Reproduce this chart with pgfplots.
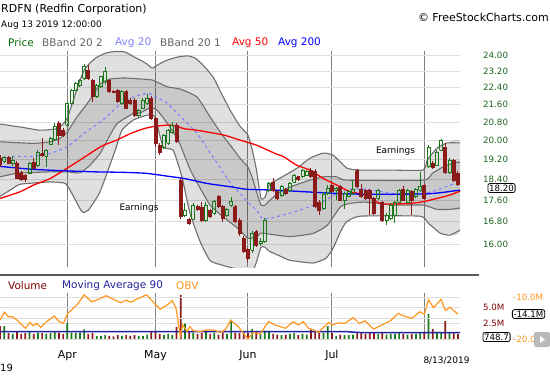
\documentclass[border=0pt]{standalone}
\usepackage{pgfplots}
\pgfplotsset{compat=1.18}
\usepackage{pgfplotstable}
\usepackage{fontspec}
\setmainfont{DejaVu Sans}
\definecolor{cred}{RGB}{139,26,26}
\definecolor{cgreen}{RGB}{25,120,25}
\definecolor{bandline}{RGB}{110,110,110}
\definecolor{avgtw}{RGB}{128,128,255}
\definecolor{mavol}{RGB}{35,35,160}
\definecolor{obv}{RGB}{255,150,30}
\definecolor{ticklbl}{RGB}{30,100,30}
\definecolor{vgrid}{RGB}{128,128,128}
\definecolor{hgrid}{RGB}{222,222,222}
\definecolor{legdark}{RGB}{0,100,0}
\definecolor{leggray}{RGB}{100,100,100}
\definecolor{volred}{RGB}{128,0,0}
\definecolor{sepline}{RGB}{90,90,90}
\definecolor{btngray}{RGB}{185,185,185}

\pgfplotstableread{
i o h l c v
0 19.25 19.40 18.90 19.00 2.0
1 19.14 19.35 19.05 19.28 2.0
2 19.27 19.35 19.00 19.06 0.9
3 19.05 19.35 18.93 19.18 0.8
4 19.05 19.12 18.40 18.45 1.1
5 18.66 18.72 18.33 18.40 0.8
6 18.57 18.62 18.30 18.40 0.9
7 18.65 19.10 18.60 19.05 1.2
8 19.10 19.25 18.80 18.85 0.8
9 18.97 19.60 18.90 19.52 1.0
10 19.45 20.10 19.30 19.38 0.9
11 19.34 19.65 18.90 19.59 0.8
12 19.85 20.15 19.80 20.08 0.9
13 20.05 20.75 20.00 20.63 1.2
14 20.75 20.85 19.80 20.24 1.0
15 20.45 20.55 20.15 20.24 0.8
16 20.68 21.75 20.60 21.66 2.5
17 21.68 22.35 21.60 22.29 1.0
18 22.29 22.70 22.25 22.60 0.9
19 22.53 22.85 22.45 22.78 1.0
20 22.88 23.60 22.80 23.45 1.5
21 23.27 23.52 22.80 22.88 0.8
22 22.78 22.85 21.75 21.98 0.9
23 21.98 22.60 21.90 22.53 0.5
24 22.48 23.00 22.40 22.95 0.5
25 22.70 23.45 22.60 23.18 0.6
26 22.78 22.85 22.15 22.22 0.5
27 22.24 22.30 22.15 22.20 0.4
28 22.29 22.35 21.70 21.75 0.6
29 21.68 22.30 21.60 22.22 0.5
30 22.22 22.30 21.40 21.45 0.6
31 21.82 21.90 21.60 21.68 0.5
32 21.82 21.90 21.05 21.12 0.6
33 21.12 21.40 21.05 21.35 0.5
34 21.45 21.90 21.40 21.82 0.5
35 21.68 22.12 21.60 21.90 0.7
36 21.90 22.00 20.90 20.97 1.2
37 20.97 21.05 19.72 19.89 1.1
38 19.80 19.88 19.40 19.52 0.8
39 19.72 20.30 19.65 20.24 0.6
40 19.89 20.52 19.80 20.45 0.8
41 20.34 20.80 20.28 20.68 0.6
42 20.68 20.75 19.90 19.96 1.9
43 18.37 18.45 16.90 16.98 6.9
44 17.04 17.48 16.98 17.20 2.4
45 16.89 16.95 16.68 16.73 1.2
46 16.89 17.50 16.85 17.41 1.0
47 17.35 17.40 17.18 17.24 0.8
48 17.32 17.52 16.80 16.85 0.9
49 16.85 17.52 16.80 17.41 1.1
50 17.22 17.28 16.92 16.98 0.8
51 17.10 17.62 17.05 17.55 0.9
52 17.72 17.78 17.30 17.35 0.7
53 17.35 17.40 16.80 16.92 1.0
54 17.04 17.30 16.98 17.25 0.8
55 17.40 17.72 17.35 17.55 2.9
56 17.35 17.42 16.75 16.80 1.0
57 16.85 16.92 16.30 16.38 0.9
58 16.20 16.28 15.70 15.75 1.1
59 15.83 15.88 15.42 15.53 1.0
60 15.80 16.45 15.72 16.39 1.6
61 16.44 16.50 15.90 15.97 1.2
62 16.05 16.22 15.95 16.10 0.8
63 16.10 16.92 16.05 16.85 1.3
64 17.98 18.30 17.90 18.24 1.2
65 18.30 18.45 17.92 17.98 0.8
66 17.93 17.98 17.62 17.67 0.7
67 17.79 18.17 17.72 18.11 0.6
68 18.01 18.06 17.80 17.86 0.7
69 17.98 18.30 17.92 18.24 0.8
70 18.30 18.62 18.25 18.57 0.9
71 18.50 18.55 18.35 18.40 0.6
72 18.50 18.80 18.45 18.75 0.8
73 18.57 18.78 18.52 18.70 0.7
74 18.77 18.84 18.45 18.50 1.5
75 18.73 18.80 17.30 17.37 1.2
76 17.52 17.60 17.04 17.22 1.0
77 17.28 17.90 17.22 17.83 1.0
78 17.86 18.17 17.80 18.05 2.0
79 18.17 18.22 17.88 17.93 0.9
80 17.98 18.10 17.60 18.04 0.5
81 18.11 18.17 17.55 17.60 0.7
82 17.60 17.92 17.28 17.86 0.6
83 17.75 17.98 17.70 17.93 0.6
84 17.86 18.37 17.80 18.01 0.7
85 18.75 18.82 18.05 18.11 1.0
86 18.01 18.20 17.68 17.73 0.9
87 17.98 18.04 17.62 17.67 0.8
88 17.98 18.04 17.04 17.67 0.9
89 17.67 17.72 17.04 17.10 0.9
90 17.67 18.04 17.60 17.98 0.8
91 17.52 17.58 16.80 16.85 0.9
92 16.85 17.10 16.67 17.04 0.7
93 16.90 17.48 16.85 17.41 0.8
94 17.04 17.58 16.74 17.52 0.8
95 17.52 18.04 17.48 17.98 0.9
96 18.01 18.13 17.55 17.60 0.8
97 17.52 18.04 17.48 17.98 0.7
98 17.93 17.98 17.04 17.60 0.8
99 17.73 18.07 17.68 18.01 0.8
100 17.98 18.68 17.92 18.11 0.9
101 18.17 18.22 17.62 17.67 1.1
102 18.90 19.80 18.85 19.70 3.9
103 19.06 19.12 18.80 18.86 1.6
104 18.97 19.58 18.92 19.52 1.1
105 19.59 20.08 19.55 20.02 1.0
106 19.72 19.89 18.62 18.68 2.8
107 18.68 19.25 18.62 19.18 0.9
108 19.18 19.24 18.30 18.37 0.9
109 18.65 18.72 18.12 18.20 0.75
}\candles

\begin{document}
\begin{tikzpicture}[x=1bp,y=1bp]

% ---------------- price panel (logarithmic price scale through a coordinate transformation) ----------------
\begin{axis}[
  at={(0bp,108bp)}, anchor=south west,
  width=460bp, height=216bp, scale only axis,
  y coord trafo/.code={\pgfmathparse{ln(#1)}},
  y coord inv trafo/.code={\pgfmathparse{exp(#1)}},
  xmin=-0.024, xmax=109.5,
  ymin=15.24, ymax=24.245,
  axis line style={draw=none},
  major tick length=0pt,
  xtick={16,37,59,79,101}, xticklabels={},
  xmajorgrids, x grid style={vgrid, line width=1bp},
  ytick={16,16.8,17.6,18.4,19.2,20,20.8,21.6,22.4,23.2,24},
  yticklabels={16.00,16.80,17.60,18.40,19.20,20.00,20.80,21.60,22.40,23.20,24.00},
  ymajorgrids, y grid style={hgrid, line width=1bp},
  yticklabel pos=right,
  yticklabel style={anchor=west, inner sep=0pt, xshift=23bp, font=\fontsize{8.7}{10}\selectfont, text=ticklbl},
]
% outer band area (BBand 20 2): upper curve, then lower curve reversed
\addplot[fill=black, fill opacity=0.12, draw=none, smooth, tension=0.3] coordinates {
(0,20.72)(4.8,20.59)(9.5,20.45)(13.1,20.50)(14.8,20.68)(16.0,21.00)(17.1,21.60)(18.6,22.53)(20.0,23.27)(21.4,23.63)(23.1,23.93)(25.2,24.14)(27.4,24.22)(29.8,24.19)(31.7,23.96)(33.8,23.73)(35.0,23.57)(36.2,23.37)(37.4,23.52)(39.3,23.73)(41.0,23.86)(42.9,23.96)(44.8,23.99)(46.4,23.88)(48.1,23.57)(50.7,22.93)(52.9,22.05)(55.0,21.27)(57.1,20.63)(59.0,20.24)(60.0,19.63)(61.0,18.81)(62.1,17.67)(63.1,17.71)(64.0,18.17)(65.0,18.29)(67.9,18.57)(70.7,18.85)(73.8,19.26)(76.9,19.47)(79.3,19.38)(82.6,18.85)(85.7,18.77)(92.9,18.77)(100.7,18.77)(101.7,19.18)(104.0,19.68)(106.4,19.90)(109.5,19.90)
(109.5,16.50)(107.1,16.32)(104.8,16.39)(101.9,16.75)(100.0,17.00)(85.7,17.00)(82.4,16.78)(81.0,16.43)(79.3,15.87)(77.6,15.53)(74.5,15.37)(69.0,15.46)(66.7,15.60)(64.0,15.77)(63.1,15.90)(62.1,15.90)(61.0,15.39)(60.0,15.04)(59.0,15.00)(57.1,15.14)(55.0,15.22)(52.9,15.30)(50.0,15.45)(47.6,16.10)(45.2,17.11)(43.3,18.49)(41.2,19.59)(38.8,19.73)(36.9,21.03)(35.0,21.12)(31.7,20.90)(29.0,20.45)(27.4,19.59)(23.8,17.92)(21.0,17.22)(19.5,17.16)(17.1,17.85)(15.5,18.24)(11.9,18.30)(4.8,18.21)(3.1,18.05)(0,17.74)};
% inner band area (BBand 20 1)
\addplot[fill=black, fill opacity=0.10, draw=none, smooth, tension=0.3] coordinates {
(0,19.95)(7.9,19.88)(11.9,19.95)(14.3,20.10)(16.0,20.38)(18.3,21.04)(20.7,21.64)(22.6,22.20)(23.8,22.58)(26.2,22.83)(29.8,22.88)(33.3,22.83)(36.2,22.78)(39.8,22.45)(42.9,22.34)(46.9,21.96)(50.0,21.04)(52.9,20.24)(55.0,19.76)(57.1,19.26)(59.0,18.89)(60.0,18.49)(61.0,17.94)(62.1,17.41)(63.1,17.41)(64.0,17.56)(66.2,17.86)(69.0,18.10)(73.8,18.37)(76.9,18.50)(80.2,18.50)(82.6,18.37)(100.7,18.37)(102.9,18.64)(105.5,18.90)(107.6,19.04)(109.5,19.10)
(109.5,17.30)(107.1,17.25)(104.0,17.25)(100.7,17.41)(93.6,17.41)(86.9,17.52)(83.3,17.47)(81.0,17.34)(77.9,16.67)(74.5,16.38)(69.0,16.27)(64.0,16.36)(62.1,16.39)(61.0,16.25)(59.0,16.21)(57.1,16.50)(55.0,16.75)(52.9,17.00)(50.0,17.41)(47.6,18.06)(45.2,18.81)(42.4,20.02)(39.8,20.75)(37.4,21.35)(35.7,21.45)(33.3,21.22)(31.7,21.20)(27.9,20.75)(26.2,20.24)(23.8,19.45)(21.4,18.97)(19.0,18.66)(16.0,18.70)(11.9,18.70)(4.0,18.64)(0,18.50)};
% band lines
\addplot[bandline, line width=1.1bp, smooth, tension=0.3] coordinates {
(0,20.72)(4.8,20.59)(9.5,20.45)(13.1,20.50)(14.8,20.68)(16.0,21.00)(17.1,21.60)(18.6,22.53)(20.0,23.27)(21.4,23.63)(23.1,23.93)(25.2,24.14)(27.4,24.22)(29.8,24.19)(31.7,23.96)(33.8,23.73)(35.0,23.57)(36.2,23.37)(37.4,23.52)(39.3,23.73)(41.0,23.86)(42.9,23.96)(44.8,23.99)(46.4,23.88)(48.1,23.57)(50.7,22.93)(52.9,22.05)(55.0,21.27)(57.1,20.63)(59.0,20.24)(60.0,19.63)(61.0,18.81)(62.1,17.67)(63.1,17.71)(64.0,18.17)(65.0,18.29)(67.9,18.57)(70.7,18.85)(73.8,19.26)(76.9,19.47)(79.3,19.38)(82.6,18.85)(85.7,18.77)(92.9,18.77)(100.7,18.77)(101.7,19.18)(104.0,19.68)(106.4,19.90)(109.5,19.90)};
\addplot[bandline, line width=1.1bp, smooth, tension=0.3] coordinates {
(0,17.74)(3.1,18.05)(4.8,18.21)(11.9,18.30)(15.5,18.24)(17.1,17.85)(19.5,17.16)(21.0,17.22)(23.8,17.92)(27.4,19.59)(29.0,20.45)(31.7,20.90)(35.0,21.12)(36.9,21.03)(38.8,19.73)(41.2,19.59)(43.3,18.49)(45.2,17.11)(47.6,16.10)(50.0,15.45)(52.9,15.30)(55.0,15.22)(57.1,15.14)(59.0,15.00)(60.0,15.04)(61.0,15.39)(62.1,15.90)(63.1,15.90)(64.0,15.77)(66.7,15.60)(69.0,15.46)(74.5,15.37)(77.6,15.53)(79.3,15.87)(81.0,16.43)(82.4,16.78)(85.7,17.00)(100.0,17.00)(101.9,16.75)(104.8,16.39)(107.1,16.32)(109.5,16.50)};
\addplot[bandline, line width=1.1bp, smooth, tension=0.3] coordinates {
(0,19.95)(7.9,19.88)(11.9,19.95)(14.3,20.10)(16.0,20.38)(18.3,21.04)(20.7,21.64)(22.6,22.20)(23.8,22.58)(26.2,22.83)(29.8,22.88)(33.3,22.83)(36.2,22.78)(39.8,22.45)(42.9,22.34)(46.9,21.96)(50.0,21.04)(52.9,20.24)(55.0,19.76)(57.1,19.26)(59.0,18.89)(60.0,18.49)(61.0,17.94)(62.1,17.41)(63.1,17.41)(64.0,17.56)(66.2,17.86)(69.0,18.10)(73.8,18.37)(76.9,18.50)(80.2,18.50)(82.6,18.37)(100.7,18.37)(102.9,18.64)(105.5,18.90)(107.6,19.04)(109.5,19.10)};
\addplot[bandline, line width=1.1bp, smooth, tension=0.3] coordinates {
(0,18.50)(4.0,18.64)(11.9,18.70)(16.0,18.70)(19.0,18.66)(21.4,18.97)(23.8,19.45)(26.2,20.24)(27.9,20.75)(31.7,21.20)(33.3,21.22)(35.7,21.45)(37.4,21.35)(39.8,20.75)(42.4,20.02)(45.2,18.81)(47.6,18.06)(50.0,17.41)(52.9,17.00)(55.0,16.75)(57.1,16.50)(59.0,16.21)(61.0,16.25)(62.1,16.39)(64.0,16.36)(69.0,16.27)(74.5,16.38)(77.9,16.67)(81.0,17.34)(83.3,17.47)(86.9,17.52)(93.6,17.41)(100.7,17.41)(104.0,17.25)(107.1,17.25)(109.5,17.30)};
% Avg 20
\addplot[avgtw, line width=1.1bp, dash pattern=on 3bp off 3bp, smooth, tension=0.3] coordinates {
(0,19.23)(4.0,19.33)(7.9,19.33)(11.9,19.45)(16.0,19.73)(18.3,20.07)(21.4,20.50)(24.5,20.90)(27.9,21.51)(31.0,21.91)(35.0,22.14)(36.4,22.05)(39.8,21.67)(42.9,21.07)(46.9,20.31)(50.7,19.30)(55.0,18.21)(57.1,17.86)(59.0,17.52)(61.0,17.22)(62.4,16.92)(64.3,16.92)(69.0,17.11)(73.8,17.35)(76.9,17.54)(80.2,17.85)(83.3,18.01)(86.9,18.02)(93.6,17.85)(100.7,17.85)(104.0,17.98)(107.1,18.17)(109.5,18.30)};
% Avg 50
\addplot[red, line width=1.3bp, smooth, tension=0.3] coordinates {
(0,17.66)(4.8,17.92)(7.9,18.17)(11.9,18.43)(15.9,18.84)(19.0,19.18)(22.6,19.59)(24.6,19.80)(27.8,20.02)(31.0,20.30)(34.1,20.51)(36.5,20.61)(40.5,20.68)(44.0,20.51)(46.8,20.45)(53.2,20.24)(57.1,20.02)(61.1,19.80)(65.5,19.45)(67.5,19.32)(70.6,18.97)(73.8,18.77)(77.0,18.43)(80.2,18.17)(83.3,17.92)(86.9,17.79)(90.5,17.47)(93.6,17.45)(97.6,17.47)(100.8,17.54)(104.0,17.66)(107.1,17.79)(109.5,17.94)};
% Avg 200
\addplot[blue, line width=1.3bp, smooth, tension=0.3] coordinates {
(0,18.92)(7.9,18.80)(15.9,18.74)(22.6,18.70)(29.4,18.68)(34.9,18.64)(39.7,18.53)(44.0,18.43)(49.2,18.24)(54.8,18.11)(58.7,18.01)(65.5,17.98)(72.2,17.92)(80.2,17.85)(86.9,17.82)(100.8,17.83)(104.8,17.88)(109.5,17.98)};
% candles
\pgfplotsforeachungrouped \k in {0,...,109}{%
  \pgfplotstablegetelem{\k}{o}\of\candles\edef\Copen{\pgfplotsretval}%
  \pgfplotstablegetelem{\k}{h}\of\candles\edef\Chigh{\pgfplotsretval}%
  \pgfplotstablegetelem{\k}{l}\of\candles\edef\Clow{\pgfplotsretval}%
  \pgfplotstablegetelem{\k}{c}\of\candles\edef\Cclose{\pgfplotsretval}%
  \ifdim\Cclose pt<\Copen pt
    \def\Ccol{cred}\def\Cfill{cred}\edef\Btop{\Copen}\edef\Bbot{\Cclose}%
  \else
    \def\Ccol{cgreen}\def\Cfill{none}\edef\Btop{\Cclose}\edef\Bbot{\Copen}%
  \fi
  \pgfmathsetmacro\xa{\k-0.34}\pgfmathsetmacro\xb{\k+0.34}%
  \edef\temp{%
    \noexpand\addplot[\Ccol, line width=1bp] coordinates {(\k,\Chigh) (\k,\Btop)};
    \noexpand\addplot[\Ccol, line width=1bp] coordinates {(\k,\Bbot) (\k,\Clow)};
    \noexpand\addplot[draw=\Ccol, fill=\Cfill, line width=0.8bp] coordinates {(\xa,\Copen) (\xb,\Copen) (\xb,\Cclose) (\xa,\Cclose) (\xa,\Copen)};
  }\temp
}
\end{axis}

% ---------------- volume panel ----------------
\begin{axis}[
  at={(0bp,36bp)}, anchor=south west,
  width=460bp, height=46bp, scale only axis,
  xmin=-0.024, xmax=109.5, ymin=0, ymax=7.19,
  axis line style={draw=none},
  major tick length=0pt,
  xtick={16,37,59,79,101}, xticklabels={Apr,May,Jun,Jul,{}},
  xticklabel style={anchor=center, inner sep=0pt, yshift=-16.7bp, font=\fontsize{11}{13}\selectfont},
  xmajorgrids, x grid style={vgrid, line width=1bp},
  ytick={2.5,5}, yticklabels={2.5M,5.0M},
  yticklabel pos=right,
  yticklabel style={anchor=west, inner sep=0pt, xshift=23bp, font=\fontsize{8.7}{10}\selectfont, text=volred},
  ymajorgrids, y grid style={hgrid, line width=1bp},
]
\addplot[ybar, bar width=1.7bp, bar shift=0pt, fill=cred, draw=none] table[x=i, y expr={\thisrow{c}<\thisrow{o} ? \thisrow{v} : 0}] {\candles};
\addplot[ybar, bar width=1.7bp, bar shift=0pt, fill=cgreen, draw=none] table[x=i, y expr={\thisrow{c}<\thisrow{o} ? 0 : \thisrow{v}}] {\candles};
\addplot[mavol, line width=1.5bp] coordinates {(0,1.15)(20,1.15)(40,1.16)(60,1.17)(82,1.17)(84,1.08)(86,1.0)(109.5,1.0)};
\end{axis}

% ---------------- OBV ----------------
\begin{axis}[
  at={(0bp,36bp)}, anchor=south west,
  width=460bp, height=46bp, scale only axis,
  xmin=-0.024, xmax=109.5, ymin=-20, ymax=-8.86,
  axis line style={draw=none},
  major tick length=0pt,
  xtick=\empty,
  ytick={-20,-15,-10}, yticklabels={-20.0M,{},-10.0M},
  yticklabel pos=right,
  yticklabel style={anchor=west, inner sep=0pt, xshift=53bp, font=\fontsize{8.7}{10}\selectfont, text=obv},
  ymajorgrids, y grid style={hgrid, line width=1bp},
]
\addplot[obv, line width=1.2bp] coordinates {
(0,-15.4)(1.0,-13.5)(2.0,-14.6)(2.9,-14.6)(4.0,-15.4)(6.0,-17.4)(7.1,-16.0)(7.9,-16.8)(8.7,-16.2)(9.7,-17.2)(11.1,-15.8)(12.9,-14.4)(14.1,-15.8)(15.1,-16.2)(16.1,-13.8)(18.4,-11.6)(20.0,-9.3)(21.8,-11.0)(23.4,-10.4)(25.2,-9.5)(27.4,-10.6)(28.7,-11.2)(30.0,-10.6)(31.2,-11.1)(32.4,-10.4)(34.9,-9.3)(36.4,-11.0)(38.1,-12.8)(39.7,-11.8)(41.0,-10.7)(41.9,-12.6)(42.9,-19.3)(43.5,-16.6)(44.5,-18.2)(45.2,-17.0)(46.0,-18.0)(47.6,-18.2)(49.2,-17.8)(50.8,-17.8)(52.4,-18.4)(53.6,-17.8)(54.9,-15.4)(56.7,-17.0)(59.0,-20.0)(60.3,-18.4)(61.9,-18.8)(63.9,-15.8)(65.5,-16.6)(66.7,-17.0)(67.9,-17.4)(69.8,-15.8)(71.0,-16.6)(72.2,-15.8)(73.4,-17.4)(74.6,-17.8)(75.8,-18.4)(78.2,-16.0)(79.1,-16.6)(80.5,-16.1)(82.1,-16.2)(84.1,-14.8)(85.5,-16.2)(86.9,-15.6)(88.9,-17.6)(90.9,-16.6)(92.9,-15.6)(94.8,-13.8)(96.0,-14.4)(98.0,-15.0)(100.0,-13.4)(101.0,-14.0)(102.0,-10.5)(103.2,-12.4)(105.0,-10.4)(106.0,-13.1)(107.1,-12.3)(109.0,-14.0)};
\end{axis}

% separator
\draw[line width=1.2bp, sepline] (0,100) -- (479,100);

% titles and legends
\node[anchor=west, inner sep=0pt, font=\fontsize{11}{13}\selectfont] at (1,366) {RDFN (Redfin Corporation)};
\node[anchor=west, inner sep=0pt, font=\fontsize{9}{11}\selectfont] at (1,350) {Aug 13 2019 12:00:00};
\node[anchor=east, inner sep=0pt, font=\fontsize{11}{13}\selectfont] at (549,358) {© FreeStockCharts.com};
\begin{scope}[every node/.style={anchor=west, inner sep=0pt, font=\fontsize{10.5}{12}\selectfont}]
\node[text=legdark] at (8,332) {Price};
\node[text=leggray] at (42,332) {BBand 20 2};
\node[text=avgtw] at (115,332) {Avg 20};
\node[text=leggray] at (160,332) {BBand 20 1};
\node[text=red] at (232,332) {Avg 50};
\node[text=blue] at (278,332) {Avg 200};
\node[text=volred] at (8,89) {Volume};
\node[text=mavol] at (62,89) {Moving Average 90};
\node[text=obv] at (176,89) {OBV};
\end{scope}
\node[inner sep=0pt, font=\fontsize{9}{11}\selectfont] at (139,167.3) {Earnings};
\node[inner sep=0pt, font=\fontsize{9}{11}\selectfont] at (395.5,224.3) {Earnings};
\node[inner sep=0pt, font=\fontsize{9}{11}\selectfont] at (446.5,14) {8/13/2019};
\node[anchor=west, inner sep=0pt, font=\fontsize{10}{12}\selectfont] at (0,7) {19};

% value boxes
\node[draw=black, fill=white, rounded corners=2bp, inner sep=1.2bp, line width=0.8bp, font=\fontsize{8.7}{10}\selectfont] at (501.5,187) {18.20};
\node[draw=black, fill=white, rounded corners=2bp, inner sep=1.2bp, line width=0.8bp, font=\fontsize{8.7}{10}\selectfont] at (528.5,61) {-14.1M};
\node[draw=black, fill=white, rounded corners=2bp, inner sep=1.2bp, line width=0.8bp, font=\fontsize{8.7}{10}\selectfont] at (496.5,38) {748.7};
\fill[rounded corners=2bp, btngray] (534,28) rectangle (550,43);
\fill[white] (540,39) -- (545,35.5) -- (540,32) -- cycle;

\pgfresetboundingbox
\useasboundingbox (0,0) rectangle (550,375);
\end{tikzpicture}
\end{document}
